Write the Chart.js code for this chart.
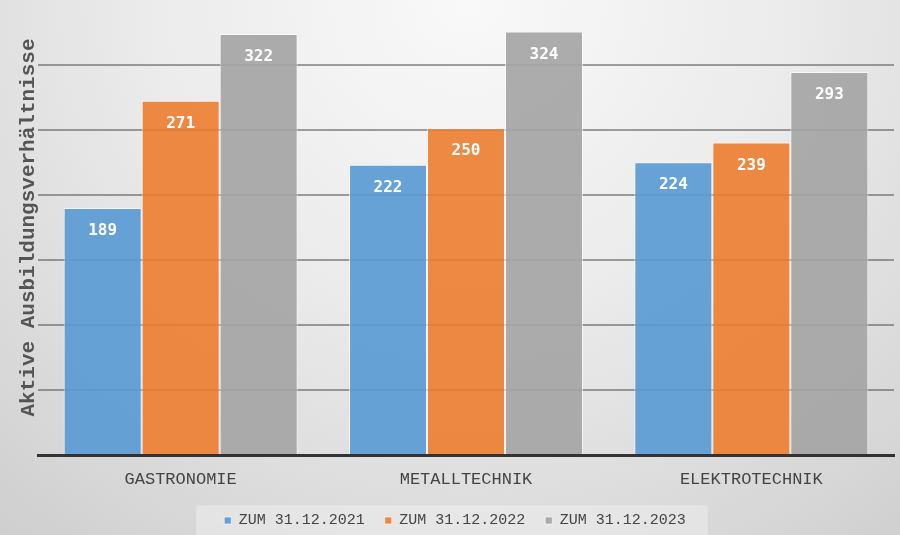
<!DOCTYPE html>
<html>
<head>
<meta charset="utf-8">
<script src="https://cdn.jsdelivr.net/npm/chart.js@4"></script>
<style>
  html, body { margin: 0; padding: 0; }
  body {
    width: 900px; height: 535px; overflow: hidden;
    background: radial-gradient(ellipse 80% 130% at 52% 0%, #f9f9f9 0%, #ebebeb 45%, #dcdcdc 75%, #cfcfcf 100%);
  }
  #wrap { width: 900px; height: 535px; position: relative; }
</style>
</head>
<body>
<div id="wrap"><canvas id="ausbildungChart"></canvas></div>
<script>
const categories = ['GASTRONOMIE', 'METALLTECHNIK', 'ELEKTROTECHNIK'];
const seriesLabels = ['ZUM 31.12.2021', 'ZUM 31.12.2022', 'ZUM 31.12.2023'];
const values2021 = [189, 222, 224];
const values2022 = [271, 250, 239];
const values2023 = [322, 324, 293];
const axisTitle = 'Aktive Ausbildungsverhältnisse';

const seriesColors = ['rgba(91,155,213,0.92)', 'rgba(237,125,49,0.9)', 'rgba(165,165,165,0.92)'];
const monoFont = '"Liberation Mono", "DejaVu Sans Mono", monospace';
const bottomShift = 3;

// white value labels just inside the top of each bar
const barValues = {
    id: 'barValues',
    afterDraw(chart) {
        const ctx = chart.ctx;
        ctx.save();
        ctx.font = 'bold 16px "DejaVu Sans Mono", monospace';
        ctx.fillStyle = '#ffffff';
        ctx.textAlign = 'center';
        ctx.textBaseline = 'middle';
        chart.data.datasets.forEach((ds, i) => {
            chart.getDatasetMeta(i).data.forEach((bar, j) => {
                ctx.fillText(ds.data[j], bar.x, bar.y + 23);
            });
        });
        ctx.restore();
    }
};

// lighter panel behind the legend
const legendPanel = {
    id: 'legendPanel',
    beforeDraw(chart) {
        const boxes = chart.legend && chart.legend.legendHitBoxes;
        if (!boxes || !boxes.length) return;
        const first = boxes[0];
        const last = boxes[boxes.length - 1];
        const cy = first.top + first.height / 2;
        const x0 = first.left - 28;
        const x1 = last.left + last.width + 22;
        const ctx = chart.ctx;
        ctx.save();
        ctx.fillStyle = 'rgba(255,255,255,0.3)';
        ctx.fillRect(x0, cy - 15, x1 - x0, chart.height - (cy - 15));
        ctx.restore();
    }
};

const chart = new Chart(document.getElementById('ausbildungChart'), {
    type: 'bar',
    data: {
        labels: categories,
        datasets: [
            {label: seriesLabels[0], data: values2021, backgroundColor: seriesColors[0]},
            {label: seriesLabels[1], data: values2022, backgroundColor: seriesColors[1]},
            {label: seriesLabels[2], data: values2023, backgroundColor: seriesColors[2]}
        ]
    },
    options: {
        responsive: true,
        maintainAspectRatio: false,
        animation: false,
        layout: {padding: {top: 0, right: 6, bottom: -bottomShift, left: 16}},
        datasets: {
            bar: {
                categoryPercentage: 0.82,
                barPercentage: 1.0,
                borderWidth: 1,
                borderColor: 'rgba(255,255,255,0.6)'
            }
        },
        scales: {
            x: {
                z: 1,
                grid: {display: false, drawTicks: false},
                border: {display: true, color: '#333333', width: 3},
                ticks: {
                    color: '#444444',
                    padding: 14,
                    font: {family: monoFont, size: 17}
                },
                afterFit(scale) {
                    const legendH = scale.chart.legend ? scale.chart.legend.height : 0;
                    scale.height = scale.chart.height + bottomShift - 455 - legendH;
                }
            },
            y: {
                z: 1,
                min: 0,
                max: 348,
                ticks: {display: false, stepSize: 50, includeBounds: false},
                border: {display: false},
                grid: {
                    drawTicks: false,
                    lineWidth: 2,
                    color: c => (c.tick && c.tick.value > 0 && c.tick.value <= 300) ? 'rgba(70,70,70,0.5)' : 'rgba(0,0,0,0)'
                },
                title: {
                    display: true,
                    text: axisTitle,
                    color: '#555555',
                    padding: {top: 0, bottom: 0},
                    font: {family: monoFont, size: 21, weight: 'bold'}
                },
                afterFit(scale) {
                    scale.width = 22;
                }
            }
        },
        plugins: {
            legend: {
                position: 'bottom',
                labels: {
                    boxWidth: 7,
                    boxHeight: 7,
                    padding: 20,
                    color: '#444444',
                    font: {family: monoFont, size: 15}
                }
            },
            tooltip: {enabled: false}
        }
    },
    plugins: [barValues, legendPanel]
});
</script>
</body>
</html>
